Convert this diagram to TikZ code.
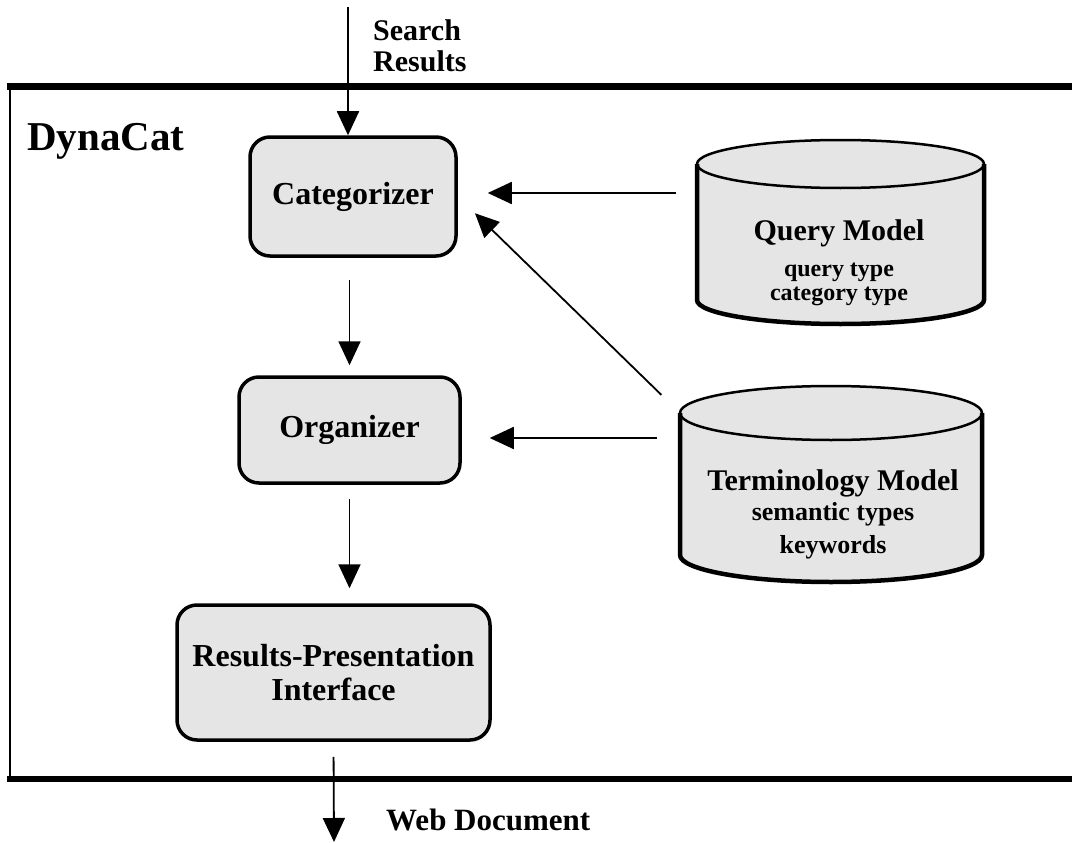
\documentclass[tikz,border=0pt]{standalone}
\usepackage{fontspec}
\setmainfont{Liberation Serif}
\usetikzlibrary{arrows.meta,calc}

\tikzset{
  procbox/.style={draw, line width=3.5pt, fill=gray!20, rounded corners=20pt,
    font=\fontsize{32}{34}\selectfont\bfseries, align=center},
  dbbody/.style={inner sep=0pt, outer sep=0pt},
  dbtext/.style={inner sep=0pt, anchor=north, align=center,
    font=\fontsize{30}{30}\selectfont\bfseries},
  lbl/.style={inner sep=0pt, font=\fontsize{30}{31}\selectfont\bfseries},
  flow/.style={line width=1.8pt, -{Triangle[length=24pt,width=22pt]}},
}
\newcommand\subtxt[1]{\fontsize{#1}{30}\selectfont}

\begin{document}
\begin{tikzpicture}[x=1pt,y=-1pt]
  \useasboundingbox (0,0) rectangle (1072,843);
  % system frame
  \draw[line width=2.5pt] (10,87) -- (10,779);
  \draw[line width=7pt] (7,87) -- (1072,87);
  \draw[line width=6pt] (7,779) -- (1072,779);
  \node[lbl, font=\fontsize{41}{41}\selectfont\bfseries, anchor=base west] (dynacat) at (27,150) {DynaCat};

  % processing steps
  \node[procbox, minimum width=206, minimum height=119] (categorizer) at (353,196.5) {Categorizer};
  \node[procbox, minimum width=221, minimum height=106] (organizer) at (349.5,430) {Organizer};
  \node[procbox, minimum width=313, minimum height=135] (results) at (333.5,672.5) {Results-Presentation\\Interface};

  % models
  \node[dbbody, minimum width=287, minimum height=136] (query) at (840.5,232) {};
  \node[dbbody, minimum width=302, minimum height=142] (term) at (831,484) {};
  \foreach \db/\rx/\ry in {query/143.5/24, term/151/27} {
    \fill[gray!20] (\db.north west) -- (\db.south west)
      arc[start angle=180, end angle=0, x radius=\rx, y radius=\ry] -- (\db.north east)
      arc[start angle=0, end angle=-180, x radius=\rx, y radius=\ry] -- cycle;
    \draw[line width=4.5pt] (\db.north west) -- (\db.south west)
      arc[start angle=180, end angle=0, x radius=\rx, y radius=\ry] -- (\db.north east);
    \draw[line width=2.5pt] (\db.north) ellipse [x radius=\rx, y radius=\ry];
  }
  \node[dbtext] (querytext) at (839,219.5)
    {Query Model\\[6pt]\subtxt{24}query type\\[-6pt]\subtxt{24}category type};
  \node[dbtext] (termtext) at (833,469.7)
    {Terminology Model\\[0pt]\subtxt{26}semantic types\\[3pt]\subtxt{26}keywords};

  % inputs and outputs
  \coordinate (searchin) at (348,7);
  \coordinate (webout) at (334,842);
  \node[lbl, anchor=north west, align=left] (searchlbl) at (373,19.5) {Search\\Results};
  \node[lbl, font=\fontsize{31}{31}\selectfont\bfseries, anchor=base west] (weblbl) at (386,830) {Web Document};

  \draw[flow] (searchin) -- (searchin |- categorizer.north);
  \draw[flow, shorten <=22pt, shorten >=10pt] (organizer.north |- categorizer.south) -- (organizer.north);
  \draw[flow, shorten <=14pt, shorten >=15pt] (organizer.south) -- (organizer.south |- results.north);
  \draw[flow, shorten <=15pt] (results.south) -- (webout);
  \draw[flow, shorten <=21pt, shorten >=30pt] ($(query.west |- categorizer.east)+(0,-3.5)$) -- ($(categorizer.east)+(0,-3.5)$);
  \draw[flow, shorten <=26pt, shorten >=24pt] (term.north west) -- (categorizer.east);
  \draw[flow, shorten <=23pt, shorten >=28pt] ($(term.west |- organizer.east)+(0,8)$) -- ($(organizer.east)+(0,8)$);
\end{tikzpicture}
\end{document}
